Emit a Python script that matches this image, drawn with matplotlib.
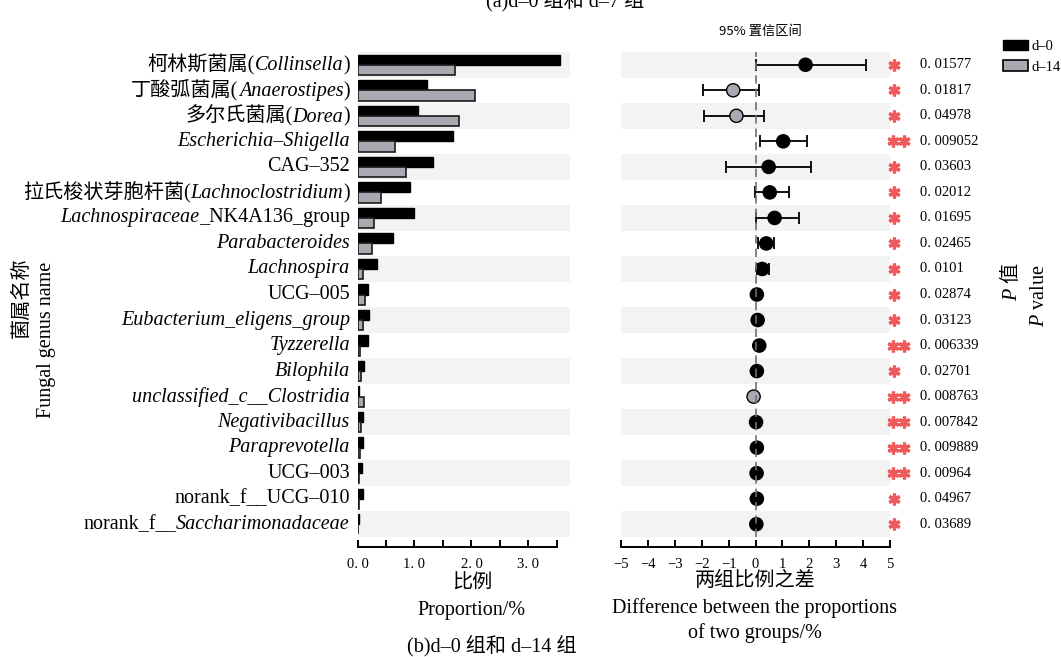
import matplotlib.pyplot as plt
from matplotlib.offsetbox import TextArea, HPacker, AnnotationBbox
from matplotlib.patches import Patch
import matplotlib.transforms as mtransforms

plt.rcParams['font.family'] = ['Liberation Serif', 'Noto Sans CJK SC']
plt.rcParams['mathtext.fontset'] = 'custom'
plt.rcParams['mathtext.rm'] = 'Liberation Serif'
plt.rcParams['mathtext.it'] = 'Liberation Serif:italic'

# 菌属名称, italic parts between *...*
genera = [
    "柯林斯菌属(*Collinsella*)",
    "丁酸弧菌属(*Anaerostipes*)",
    "多尔氏菌属(*Dorea*)",
    "*Escherichia–Shigella*",
    "CAG–352",
    "拉氏梭状芽胞杆菌(*Lachnoclostridium*)",
    "*Lachnospiraceae*_NK4A136_group",
    "*Parabacteroides*",
    "*Lachnospira*",
    "UCG–005",
    "*Eubacterium_eligens_group*",
    "*Tyzzerella*",
    "*Bilophila*",
    "*unclassified_c__Clostridia*",
    "*Negativibacillus*",
    "*Paraprevotella*",
    "UCG–003",
    "norank_f__UCG–010",
    "norank_f__*Saccharimonadaceae*",
]

# proportions (%)
d0 = [3.56, 1.22, 1.07, 1.68, 1.33, 0.92, 0.99, 0.63, 0.35, 0.19,
      0.21, 0.19, 0.11, 0.03, 0.10, 0.10, 0.08, 0.09, 0.03]
d14 = [1.71, 2.07, 1.78, 0.65, 0.85, 0.41, 0.29, 0.26, 0.10, 0.14,
       0.10, 0.05, 0.06, 0.11, 0.06, 0.04, 0.03, 0.02, 0.01]

# difference and 95% CI
diff = [1.86, -0.83, -0.71, 1.03, 0.49, 0.53, 0.71, 0.40, 0.25, 0.05,
        0.08, 0.14, 0.05, -0.07, 0.02, 0.05, 0.04, 0.05, 0.03]
ci_low = [0.02, -1.96, -1.92, 0.17, -1.09, -0.02, 0.02, 0.10, 0.06, 0.0,
          0.01, 0.05, 0.0, -0.12, -0.02, 0.0, 0.0, 0.0, 0.0]
ci_high = [4.10, 0.14, 0.33, 1.91, 2.07, 1.25, 1.61, 0.68, 0.49, 0.10,
           0.15, 0.22, 0.10, -0.02, 0.06, 0.10, 0.08, 0.10, 0.06]

p_values = [0.01577, 0.01817, 0.04978, 0.009052, 0.03603, 0.02012, 0.01695,
            0.02465, 0.0101, 0.02874, 0.03123, 0.006339, 0.02701, 0.008763,
            0.007842, 0.009889, 0.00964, 0.04967, 0.03689]

left_ticks = [0, 0.5, 1.0, 1.5, 2.0, 2.5, 3.0, 3.5]
left_ticklabels = ['0. 0', '', '1. 0', '', '2. 0', '', '3. 0', '']
right_ticks = [-5, -4, -3, -2, -1, 0, 1, 2, 3, 4, 5]

c_d0 = 'black'
c_d14 = '#a9a9b2'
c_strip = '#f3f3f3'
c_star = '#f05a5c'

W, H = 1061, 657
fig = plt.figure(figsize=(W / 100, H / 100), dpi=100)


def box(x0, y0, x1, y1):
    return [x0 / W, 1 - y1 / H, (x1 - x0) / W, (y1 - y0) / H]


ax1 = fig.add_axes(box(357.5, 52, 570, 537))
ax2 = fig.add_axes(box(621, 52, 890, 537))

n = len(genera)
rows = list(range(n))

for ax in (ax1, ax2):
    for i in rows:
        if i % 2 == 0:
            ax.axhspan(i - 0.5, i + 0.5, color=c_strip, lw=0, zorder=0)
    ax.set_ylim(n - 0.5, -0.5)
    ax.set_yticks([])
    for s in ('top', 'right', 'left'):
        ax.spines[s].set_visible(False)
    ax.spines['bottom'].set_position(('outward', 7))
    ax.spines['bottom'].set_linewidth(1.4)
    ax.tick_params(axis='x', direction='in', length=5, width=1.4,
                   labelsize=10.5, pad=8)
    ax.set_facecolor('none')

# left: bars
ax1.barh([r - 0.2 for r in rows], d0, height=0.4, color=c_d0,
         edgecolor='black', lw=1, zorder=2)
ax1.barh([r + 0.2 for r in rows], d14, height=0.4, color=c_d14,
         edgecolor='#1a1a1a', lw=1.2, zorder=2)
ax1.set_xlim(0, 3.73)
ax1.spines['bottom'].set_bounds(0, 3.5)
ax1.set_xticks(left_ticks)
ax1.set_xticklabels(left_ticklabels)

# genus labels with mixed italic / normal parts
for i, lab in enumerate(genera):
    parts = lab.split('*')
    areas = []
    for k, p in enumerate(parts):
        if not p:
            continue
        areas.append(TextArea(p, textprops=dict(
            fontsize=14.5, style='italic' if k % 2 else 'normal')))
    pack = HPacker(children=areas, align='baseline', pad=0, sep=0)
    ab = AnnotationBbox(pack, (0, i), xycoords=ax1.get_yaxis_transform(),
                        xybox=(-5.5, 0), boxcoords='offset points',
                        box_alignment=(1, 0.5), frameon=False, pad=0,
                        annotation_clip=False)
    ax1.add_artist(ab)

# right: difference with CI
for i in rows:
    ax2.errorbar(diff[i], i, xerr=[[diff[i] - ci_low[i]], [ci_high[i] - diff[i]]],
                 fmt='none', ecolor='black', elinewidth=1.3, capsize=4.5,
                 capthick=1.3, zorder=2)
colors = [c_d0 if d > 0 else c_d14 for d in diff]
ax2.scatter(diff, rows, s=90, c=colors, edgecolors='black', linewidths=1, zorder=3)
ax2.axvline(0, color='#707070', ls=(0, (5, 3)), lw=1.2, zorder=4)
ax2.set_xlim(-5, 5)
ax2.set_xticks(right_ticks)

# significance stars and p values
trans = mtransforms.blended_transform_factory(ax2.transAxes, ax2.transData)
for i, p in enumerate(p_values):
    if p < 0.01:
        xs = [(892.5 - 621) / 269, (903.5 - 621) / 269]
    else:
        xs = [(894 - 621) / 269]
    ax2.plot(xs, [i] * len(xs), ls='none', marker=(6, 2, 0), ms=8.5, mew=2.3,
             color=c_star, transform=trans, clip_on=False)
    ax2.text((920 - 621) / 269, i, str(p).replace('0.', '0. ', 1),
             transform=trans, ha='left', va='center', fontsize=10.5)

# legend
fig.legend(handles=[Patch(fc=c_d0, ec='black'), Patch(fc=c_d14, ec='black', lw=1.2)],
           labels=['d–0', 'd–14'], loc='upper left',
           bbox_to_anchor=(997 / W, 1 - 34 / H), frameon=False,
           handlelength=1.7, handleheight=0.7, handletextpad=0.3,
           labelspacing=0.5, fontsize=10.5, borderaxespad=0)


def ftext(x, y, s, **kw):
    fig.text(x / W, 1 - y / H, s, ha='center', va='center', **kw)


ftext(565, 1, "(a)d–0 组和 d–7 组", fontsize=14.5)
ftext(760, 31, "95% 置信区间", fontsize=9.5, family=['Noto Sans CJK SC'])
ftext(472, 584, "比例", fontsize=14.5)
ftext(472, 611, "Proportion/%", fontsize=14.5)
ftext(755, 581, "两组比例之差", fontsize=14.5)
ftext(755, 608, "Difference between the proportions", fontsize=14.5)
ftext(755, 633, "of two groups/%", fontsize=14.5)
ftext(492, 646, "(b)d–0 组和 d–14 组", fontsize=14.5)
ftext(22, 298, "菌属名称", fontsize=14.5, rotation=90)
ftext(47, 340, "Fungal genus name", fontsize=14.5, rotation=90)
ftext(1012, 294, "$\\mathit{P}$", fontsize=14.5, rotation=90)
ftext(1012, 273, "值", fontsize=14.5, rotation=90)
ftext(1040, 296, "$\\mathit{P}$ value", fontsize=14.5, rotation=90)

fig.savefig('out.png', dpi=100)
